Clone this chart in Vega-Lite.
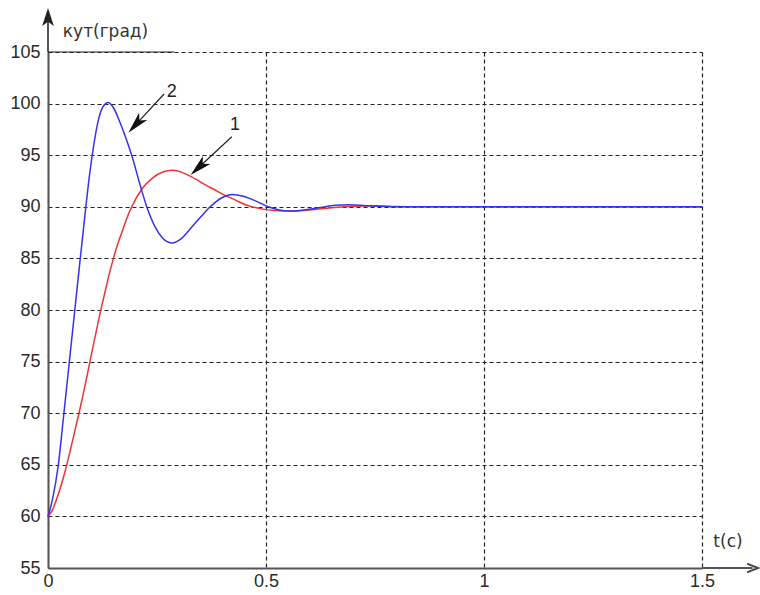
{
  "$schema": "https://vega.github.io/schema/vega-lite/v6.json",
  "width": 654,
  "height": 516,
  "autosize": "none",
  "padding": {"left": 48, "top": 52, "right": 58, "bottom": 27},
  "background": "white",
  "config": {
    "view": {"stroke": null},
    "font": "Liberation Sans",
    "axis": {
      "grid": true,
      "gridDash": [4, 3],
      "gridColor": "#222",
      "gridWidth": 1.2,
      "gridOpacity": 1,
      "ticks": false,
      "domainColor": "#555",
      "domainWidth": 2,
      "labelFont": "Liberation Sans",
      "labelFontSize": 18,
      "labelColor": "#2a2a2a",
      "labelFlush": false,
      "labelOverlap": false
    },
    "axisX": {"labelPadding": 4},
    "axisY": {"labelPadding": 8}
  },
  "datasets": {
    "red": [
      {"t": 0, "v": 60}, {"t": 0.01, "v": 60.6}, {"t": 0.02, "v": 61.7}, {"t": 0.03, "v": 63.0},
      {"t": 0.04, "v": 64.5}, {"t": 0.05, "v": 66.2}, {"t": 0.06, "v": 68.0}, {"t": 0.07, "v": 69.8},
      {"t": 0.08, "v": 71.7}, {"t": 0.09, "v": 73.7}, {"t": 0.1, "v": 75.8}, {"t": 0.11, "v": 77.8},
      {"t": 0.12, "v": 79.8}, {"t": 0.13, "v": 81.6}, {"t": 0.14, "v": 83.4}, {"t": 0.15, "v": 85.0},
      {"t": 0.16, "v": 86.4}, {"t": 0.17, "v": 87.6}, {"t": 0.18, "v": 88.8}, {"t": 0.192, "v": 90},
      {"t": 0.215, "v": 91.7}, {"t": 0.24, "v": 92.8}, {"t": 0.265, "v": 93.4}, {"t": 0.284, "v": 93.55},
      {"t": 0.3, "v": 93.45}, {"t": 0.32, "v": 93.1}, {"t": 0.34, "v": 92.65}, {"t": 0.36, "v": 92.15},
      {"t": 0.38, "v": 91.7}, {"t": 0.406, "v": 91.1}, {"t": 0.43, "v": 90.65}, {"t": 0.456, "v": 90.15},
      {"t": 0.49, "v": 89.8}, {"t": 0.52, "v": 89.65}, {"t": 0.56, "v": 89.6}, {"t": 0.6, "v": 89.7},
      {"t": 0.65, "v": 89.9}, {"t": 0.7, "v": 90.05}, {"t": 0.75, "v": 90.1}, {"t": 0.8, "v": 90.02},
      {"t": 0.9, "v": 90}, {"t": 1.5, "v": 90}
    ],
    "blue": [
      {"t": 0, "v": 60}, {"t": 0.01, "v": 61.6}, {"t": 0.0237, "v": 65}, {"t": 0.036, "v": 69.8},
      {"t": 0.048, "v": 74.6}, {"t": 0.06, "v": 79.4}, {"t": 0.072, "v": 84.2}, {"t": 0.084, "v": 88.9},
      {"t": 0.095, "v": 93.0}, {"t": 0.105, "v": 96.0}, {"t": 0.115, "v": 98.3}, {"t": 0.125, "v": 99.6},
      {"t": 0.138, "v": 100.1}, {"t": 0.15, "v": 99.6}, {"t": 0.165, "v": 98.2}, {"t": 0.18, "v": 96.5},
      {"t": 0.192, "v": 95}, {"t": 0.21, "v": 92.3}, {"t": 0.2265, "v": 90}, {"t": 0.245, "v": 88.1},
      {"t": 0.262, "v": 87.0}, {"t": 0.284, "v": 86.5}, {"t": 0.305, "v": 86.9}, {"t": 0.325, "v": 87.8},
      {"t": 0.35, "v": 89.0}, {"t": 0.372, "v": 90}, {"t": 0.4, "v": 90.9}, {"t": 0.422, "v": 91.2},
      {"t": 0.45, "v": 91.0}, {"t": 0.48, "v": 90.5}, {"t": 0.505, "v": 90}, {"t": 0.53, "v": 89.7},
      {"t": 0.555, "v": 89.6}, {"t": 0.58, "v": 89.65}, {"t": 0.62, "v": 89.9}, {"t": 0.66, "v": 90.15},
      {"t": 0.69, "v": 90.2}, {"t": 0.73, "v": 90.1}, {"t": 0.78, "v": 90.02}, {"t": 0.85, "v": 90},
      {"t": 1.5, "v": 90}
    ],
    "axisLabels": [
      {"t": 0.034, "v": 106.9, "txt": "кут(град)"},
      {"t": 1.526, "v": 57.55, "txt": "t(c)"}
    ],
    "nums": [
      {"t": 0.429, "v": 97.93, "txt": "1"},
      {"t": 0.284, "v": 101.15, "txt": "2"}
    ],
    "segments": [
      {"t": 0.2662, "v": 100.93, "t2": 0.2013, "v2": 97.97},
      {"t": 0.4216, "v": 96.79, "t2": 0.3455, "v2": 93.81},
      {"t": 0, "v": 105, "t2": 0.29, "v2": 105}
    ],
    "axisExt": [
      {"t": 1.5, "v": 55, "t2": 1.616, "v2": 55},
      {"t": 0, "v": 105, "t2": 0, "v2": 108.4}
    ],
    "head1": [{"t": 0.3455, "v": 93.81}],
    "head2": [{"t": 0.2013, "v": 97.97}],
    "xArrow": [{"t": 1.616, "v": 55}],
    "yArrow": [{"t": 0, "v": 108.4}]
  },
  "layer": [
    {
      "data": {"name": "red"},
      "mark": {"type": "line", "color": "#ee3333", "strokeWidth": 1.5, "interpolate": "monotone"},
      "encoding": {
        "x": {
          "field": "t", "type": "quantitative",
          "scale": {"domain": [0, 1.5], "nice": false, "zero": false},
          "axis": {"title": null, "values": [0, 0.5, 1, 1.5], "format": "~g"}
        },
        "y": {
          "field": "v", "type": "quantitative",
          "scale": {"domain": [55, 105], "nice": false, "zero": false},
          "axis": {"title": null, "values": [55, 60, 65, 70, 75, 80, 85, 90, 95, 100, 105]}
        }
      }
    },
    {
      "data": {"name": "blue"},
      "mark": {"type": "line", "color": "#3333ee", "strokeWidth": 1.5, "interpolate": "monotone"},
      "encoding": {
        "x": {"field": "t", "type": "quantitative", "axis": {"title": null}},
        "y": {"field": "v", "type": "quantitative", "axis": {"title": null}}
      }
    },
    {
      "data": {"name": "axisExt"},
      "mark": {"type": "rule", "color": "#555", "strokeWidth": 2},
      "encoding": {
        "x": {"field": "t", "type": "quantitative", "axis": {"title": null}},
        "y": {"field": "v", "type": "quantitative", "axis": {"title": null}},
        "x2": {"field": "t2"},
        "y2": {"field": "v2"}
      }
    },
    {
      "data": {"name": "segments"},
      "mark": {"type": "rule", "color": "#222", "strokeWidth": 1.2},
      "encoding": {
        "x": {"field": "t", "type": "quantitative", "axis": {"title": null}},
        "y": {"field": "v", "type": "quantitative", "axis": {"title": null}},
        "x2": {"field": "t2"},
        "y2": {"field": "v2"}
      }
    },
    {
      "data": {"name": "head1"},
      "mark": {"type": "point", "shape": "M0,-1L0.5,1L0,0.5L-0.5,1Z", "filled": true, "color": "#111", "opacity": 1, "size": 484, "angle": 227},
      "encoding": {
        "x": {"field": "t", "type": "quantitative", "axis": {"title": null}},
        "y": {"field": "v", "type": "quantitative", "axis": {"title": null}}
      }
    },
    {
      "data": {"name": "head2"},
      "mark": {"type": "point", "shape": "M0,-1L0.5,1L0,0.5L-0.5,1Z", "filled": true, "color": "#111", "opacity": 1, "size": 484, "angle": 222},
      "encoding": {
        "x": {"field": "t", "type": "quantitative", "axis": {"title": null}},
        "y": {"field": "v", "type": "quantitative", "axis": {"title": null}}
      }
    },
    {
      "data": {"name": "yArrow"},
      "mark": {"type": "point", "shape": "M0,-1L0.65,1L0,0.55L-0.65,1Z", "filled": true, "color": "#222", "opacity": 1, "size": 324},
      "encoding": {
        "x": {"field": "t", "type": "quantitative", "axis": {"title": null}},
        "y": {"field": "v", "type": "quantitative", "axis": {"title": null}}
      }
    },
    {
      "data": {"name": "xArrow"},
      "mark": {"type": "point", "shape": "M-1,-0.8L1,0L-1,0.8", "filled": false, "color": "#444", "opacity": 1, "strokeWidth": 2, "size": 121},
      "encoding": {
        "x": {"field": "t", "type": "quantitative", "axis": {"title": null}},
        "y": {"field": "v", "type": "quantitative", "axis": {"title": null}}
      }
    },
    {
      "data": {"name": "axisLabels"},
      "mark": {"type": "text", "align": "left", "baseline": "middle", "fontSize": 17, "color": "#333", "font": "DejaVu Sans"},
      "encoding": {
        "x": {"field": "t", "type": "quantitative", "axis": {"title": null}},
        "y": {"field": "v", "type": "quantitative", "axis": {"title": null}},
        "text": {"field": "txt"}
      }
    },
    {
      "data": {"name": "nums"},
      "mark": {"type": "text", "align": "center", "baseline": "middle", "fontSize": 18, "color": "#222", "font": "Liberation Sans"},
      "encoding": {
        "x": {"field": "t", "type": "quantitative", "axis": {"title": null}},
        "y": {"field": "v", "type": "quantitative", "axis": {"title": null}},
        "text": {"field": "txt"}
      }
    }
  ]
}
